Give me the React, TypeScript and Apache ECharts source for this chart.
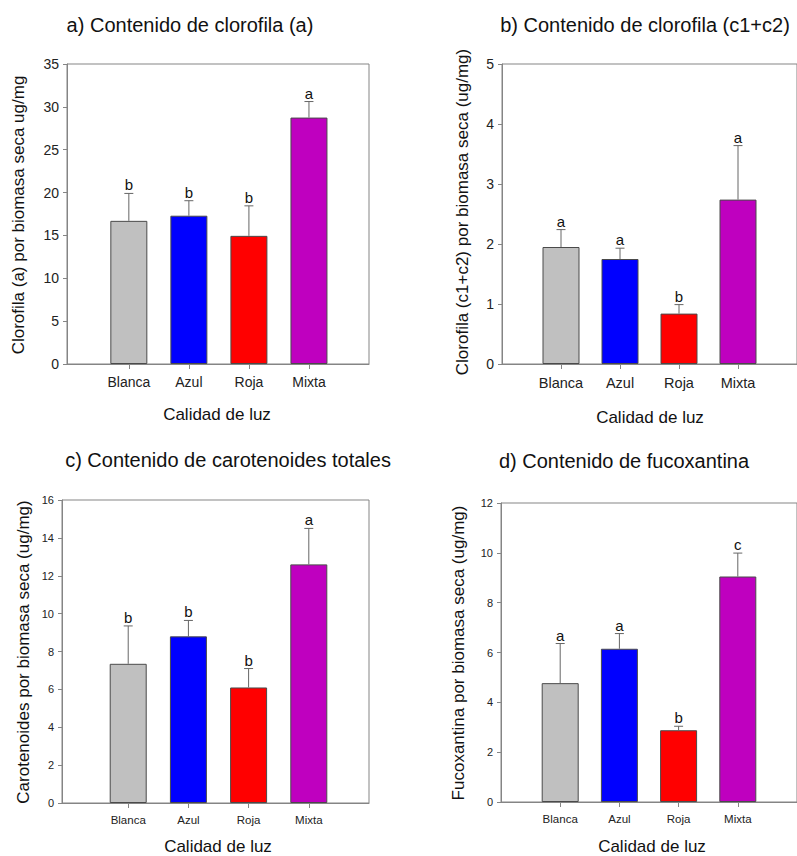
import React, { useEffect, useRef } from "react";
import * as echarts from "echarts";

const categories = ["Blanca", "Azul", "Roja", "Mixta"];
const barColors = ["#c0c0c0", "#0000ff", "#ff0000", "#bf00bf"];

const chlA = [16.7, 17.3, 14.95, 28.75];
const chlAErr = [3.2, 1.75, 3.5, 1.87];
const chlALetters = ["b", "b", "b", "a"];

const chlC = [1.95, 1.75, 0.84, 2.74];
const chlCErr = [0.29, 0.18, 0.15, 0.9];
const chlCLetters = ["a", "a", "b", "a"];

const carot = [7.35, 8.8, 6.1, 12.6];
const carotErr = [2.0, 0.84, 1.0, 1.9];
const carotLetters = ["b", "b", "b", "a"];

const fuco = [4.77, 6.15, 2.88, 9.05];
const fucoErr = [1.59, 0.61, 0.16, 0.94];
const fucoLetters = ["a", "a", "b", "c"];

const titles = [
  "a) Contenido de clorofila (a)",
  "b) Contenido de clorofila (c1+c2)",
  "c) Contenido de carotenoides totales",
  "d) Contenido de fucoxantina",
];
const yNames = [
  "Clorofila (a) por biomasa seca ug/mg",
  "Clorofila (c1+c2) por biomasa seca (ug/mg)",
  "Carotenoides por biomasa seca (ug/mg)",
  "Fucoxantina por biomasa seca (ug/mg)",
];
const xName = "Calidad de luz";
const yMax = [35, 5, 16, 12];
const yInterval = [5, 1, 2, 2];

const FONT = "'Liberation Sans', Arial, sans-serif";

const panels = [
  { values: chlA, errs: chlAErr, letters: chlALetters, grid: { left: 67, top: 64, width: 302, height: 300 }, xMin: -0.03, tickFont: 14, catFont: 14, title: [190, 25], yName: [18, 215], xNamePos: [217, 414] },
  { values: chlC, errs: chlCErr, letters: chlCLetters, grid: { left: 502, top: 64, width: 301, height: 300 }, xMin: 0, tickFont: 14, catFont: 14.5, title: [645, 25], yName: [462, 212], xNamePos: [650, 417] },
  { values: carot, errs: carotErr, letters: carotLetters, grid: { left: 62, top: 500, width: 307, height: 303 }, xMin: -0.1, tickFont: 11, catFont: 11.5, title: [228, 460], yName: [23, 652], xNamePos: [218, 846] },
  { values: fuco, errs: fucoErr, letters: fucoLetters, grid: { left: 501, top: 503, width: 301, height: 299 }, xMin: 0, tickFont: 11, catFont: 11.5, title: [624, 461], yName: [458, 653], xNamePos: [652, 846] },
];

export default function App() {
  const ref = useRef<HTMLDivElement>(null);
  useEffect(() => {
    if (!ref.current) return;
    const chart = echarts.init(ref.current, null, { renderer: "svg" });
    const grids: any[] = [];
    const xAxes: any[] = [];
    const yAxes: any[] = [];
    const series: any[] = [];
    const graphics: any[] = [];
    panels.forEach((p, i) => {
      grids.push({ ...p.grid, show: true, borderColor: "#858585", borderWidth: 1, backgroundColor: "transparent" });
      xAxes.push({
        type: "value",
        gridIndex: i,
        min: p.xMin,
        max: 5,
        splitLine: { show: false },
        axisLine: { show: true, onZero: false, lineStyle: { color: "#858585", width: 1 } },
        axisTick: { show: true, length: 5, customValues: [1, 2, 3, 4], lineStyle: { color: "#858585" } },
        axisLabel: {
          customValues: [1, 2, 3, 4],
          margin: 11,
          color: "#222",
          fontSize: p.catFont,
          fontFamily: FONT,
          formatter: (v: number) => {
            const k = Math.round(v);
            return Math.abs(v - k) < 1e-6 && k >= 1 && k <= 4 ? categories[k - 1] : "";
          },
        },
      });
      yAxes.push({
        type: "value",
        gridIndex: i,
        min: 0,
        max: yMax[i],
        interval: yInterval[i],
        splitLine: { show: false },
        axisLine: { show: true, onZero: false, lineStyle: { color: "#858585", width: 1 } },
        axisTick: { show: true, length: 4, lineStyle: { color: "#858585" } },
        axisLabel: { margin: 8, color: "#222", fontSize: p.tickFont, fontFamily: FONT },
      });
      series.push({
        type: "bar",
        xAxisIndex: i,
        yAxisIndex: i,
        barWidth: 37,
        data: p.values.map((v, j) => ({
          value: [j + 1, v],
          itemStyle: { color: barColors[j], borderColor: "#4a4a4a", borderWidth: 1 },
        })),
        z: 2,
      });
      const letters = p.letters;
      series.push({
        type: "custom",
        xAxisIndex: i,
        yAxisIndex: i,
        z: 3,
        encode: { x: 0, y: 1 },
        data: p.values.map((v, j) => [j + 1, v, p.errs[j]]),
        renderItem: (params: any, api: any) => {
          const x = api.value(0);
          const y = api.value(1);
          const e = api.value(2);
          const b = api.coord([x, y]);
          const t = api.coord([x, y + e]);
          return {
            type: "group",
            children: [
              { type: "line", shape: { x1: b[0], y1: b[1], x2: t[0], y2: t[1] }, style: { stroke: "#666", lineWidth: 1 } },
              { type: "line", shape: { x1: t[0] - 4.5, y1: t[1], x2: t[0] + 4.5, y2: t[1] }, style: { stroke: "#666", lineWidth: 1 } },
              {
                type: "text",
                x: t[0],
                y: t[1] - 1,
                style: { text: letters[params.dataIndex], fill: "#111", fontSize: 15, fontFamily: FONT, align: "center", verticalAlign: "bottom" },
              },
            ],
          };
        },
      });
      graphics.push({
        type: "text",
        x: p.title[0],
        y: p.title[1],
        style: { text: titles[i], fill: "#111", fontSize: 20, fontFamily: FONT, align: "center", verticalAlign: "middle" },
      });
      graphics.push({
        type: "text",
        x: p.yName[0],
        y: p.yName[1],
        rotation: Math.PI / 2,
        style: { text: yNames[i], fill: "#111", fontSize: 17, fontFamily: FONT, align: "center", verticalAlign: "middle" },
      });
      graphics.push({
        type: "text",
        x: p.xNamePos[0],
        y: p.xNamePos[1],
        style: { text: xName, fill: "#111", fontSize: 17, fontFamily: FONT, align: "center", verticalAlign: "middle" },
      });
    });
    chart.setOption({
      animation: false,
      backgroundColor: "#ffffff",
      grid: grids,
      xAxis: xAxes,
      yAxis: yAxes,
      series,
      graphic: graphics,
    });
    return () => chart.dispose();
  }, []);
  return <div ref={ref} style={{ position: "fixed", left: 0, top: 0, width: 797, height: 856 }} />;
}
